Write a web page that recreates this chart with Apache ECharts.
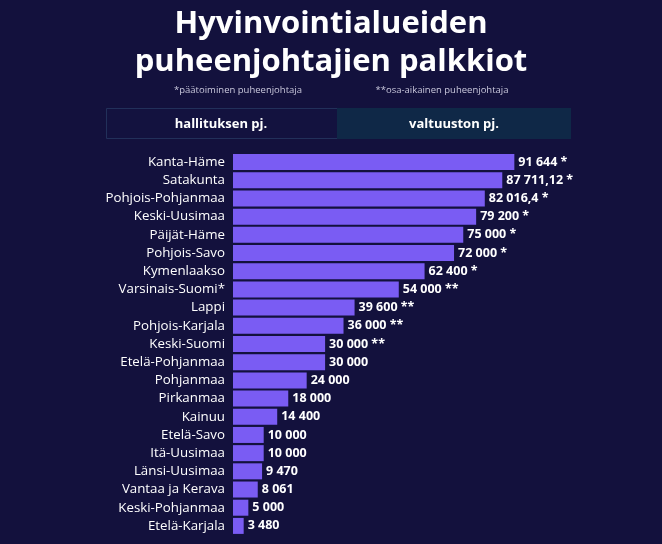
<!DOCTYPE html>
<html>
<head>
<meta charset="utf-8">
<script src="https://cdn.jsdelivr.net/npm/echarts@6/dist/echarts.min.js"></script>
<style>
  html, body { margin: 0; padding: 0; background: #13113d; }
  #chart { width: 662px; height: 544px; }
</style>
</head>
<body>
<div id="chart"></div>
<script>
const regions = [
  'Kanta-Häme', 'Satakunta', 'Pohjois-Pohjanmaa', 'Keski-Uusimaa', 'Päijät-Häme',
  'Pohjois-Savo', 'Kymenlaakso', 'Varsinais-Suomi*', 'Lappi', 'Pohjois-Karjala',
  'Keski-Suomi', 'Etelä-Pohjanmaa', 'Pohjanmaa', 'Pirkanmaa', 'Kainuu',
  'Etelä-Savo', 'Itä-Uusimaa', 'Länsi-Uusimaa', 'Vantaa ja Kerava',
  'Keski-Pohjanmaa', 'Etelä-Karjala',
]
const fees = [
  91644, 87711.12, 82016.4, 79200, 75000, 72000, 62400, 54000, 39600, 36000,
  30000, 30000, 24000, 18000, 14400, 10000, 10000, 9470, 8061, 5000, 3480,
]
// * = päätoiminen, ** = osa-aikainen
const marks = [
  '*', '*', '*', '*', '*', '*', '*', '**', '**', '**',
  '**', '', '', '', '', '', '', '', '', '', '',
]

const fmt = (v) => {
  const [int, dec] = String(v).split('.')
  const grouped = int.replace(/\B(?=(\d{3})+(?!\d))/g, ' ')
  return dec ? grouped + ',' + dec : grouped
}

const font = '"Open Sans", Lato, sans-serif'
const chart = echarts.init(document.getElementById('chart'), null, { renderer: 'canvas' })

chart.setOption({
  backgroundColor: '#13113d',
  animation: false,
  title: [
    {
      text: 'Hyvinvointialueiden\npuheenjohtajien palkkiot',
      left: 'center',
      top: 0,
      textStyle: {
        fontFamily: font,
        fontWeight: 'bold',
        fontSize: 31,
        lineHeight: 38,
        color: '#ffffff',
      },
    },
  ],
  graphic: [
    {
      type: 'text',
      x: 238,
      y: 90,
      style: {
        text: '*päätoiminen puheenjohtaja',
        fill: '#c9c8dc',
        font: '9.5px ' + font,
        textAlign: 'center',
        textVerticalAlign: 'middle',
      },
    },
    {
      type: 'text',
      x: 442,
      y: 90,
      style: {
        text: '**osa-aikainen puheenjohtaja',
        fill: '#c9c8dc',
        font: '9.5px ' + font,
        textAlign: 'center',
        textVerticalAlign: 'middle',
      },
    },
    {
      type: 'rect',
      shape: { x: 106.5, y: 108.5, width: 231, height: 30 },
      style: { fill: '#13123f', stroke: '#22305a', lineWidth: 1 },
    },
    {
      type: 'rect',
      shape: { x: 337, y: 108, width: 234, height: 31 },
      style: { fill: '#0f2847' },
    },
    {
      type: 'text',
      x: 221,
      y: 124,
      style: {
        text: 'hallituksen pj.',
        fill: '#ffffff',
        font: 'bold 13px ' + font,
        textAlign: 'center',
        textVerticalAlign: 'middle',
      },
    },
    {
      type: 'text',
      x: 454,
      y: 124,
      style: {
        text: 'valtuuston pj.',
        fill: '#ffffff',
        font: 'bold 13px ' + font,
        textAlign: 'center',
        textVerticalAlign: 'middle',
      },
    },
  ],
  grid: { left: 233, right: 122, top: 153, bottom: 9 },
  xAxis: {
    type: 'value',
    min: 0,
    max: 100000,
    show: false,
  },
  yAxis: {
    type: 'category',
    inverse: true,
    data: regions,
    axisLine: { show: false },
    axisTick: { show: false },
    axisLabel: {
      color: '#ffffff',
      fontFamily: font,
      fontSize: 13.3,
      margin: 8,
    },
  },
  series: [
    {
      type: 'bar',
      data: fees,
      barWidth: 16,
      itemStyle: { color: '#7a5cf3' },
      label: {
        show: true,
        position: 'right',
        distance: 4,
        color: '#ffffff',
        fontFamily: font,
        fontWeight: 'bold',
        fontSize: 12.5,
        formatter: ({ value, dataIndex }) =>
          fmt(value) + (marks[dataIndex] ? ' ' + marks[dataIndex] : ''),
      },
    },
  ],
})
</script>
</body>
</html>
